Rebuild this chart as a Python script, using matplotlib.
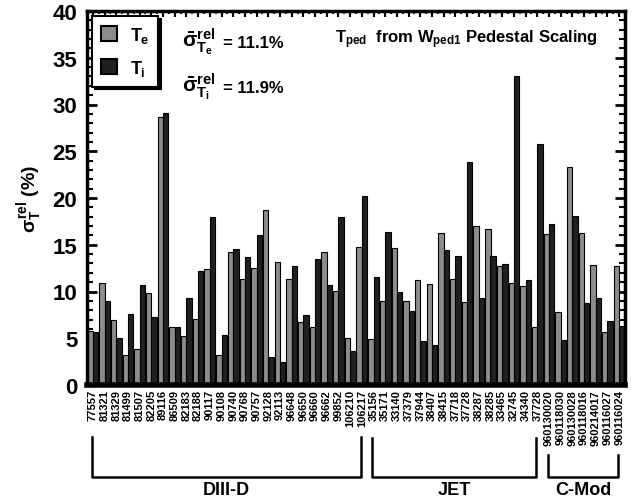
import numpy as np
import matplotlib
matplotlib.use("Agg")
import matplotlib.pyplot as plt
from matplotlib import font_manager as fm
from matplotlib.patches import Patch
from matplotlib.lines import Line2D
from matplotlib.transforms import blended_transform_factory

# ---- data -------------------------------------------------------------
shots = ["77557", "81321", "81329", "81499", "81507", "82205", "89116", "86509",
         "82183", "82188", "90117", "90108", "90740", "90768", "90757", "92128",
         "92113", "96648", "96650", "96660", "96662", "99852", "106210", "106217",
         "35156", "35171", "33140", "37379", "37944", "38407", "38415", "37718",
         "37728", "38287", "38285", "33465", "32745", "34340", "37728",
         "960130020", "960118030", "960130028", "960118016", "960214017",
         "960116027", "960116024"]

sigma_te = [5.8, 10.9, 6.9, 3.2, 3.8, 9.8, 28.7, 6.2, 5.2, 7.05, 12.4, 3.25,
            14.2, 11.35, 12.55, 18.7, 13.2, 11.3, 6.75, 6.2, 14.25, 10.1, 5.0, 14.8,
            4.9, 8.95, 14.7, 8.95, 11.25, 10.75, 16.25, 11.35, 8.9, 17.0, 16.7,
            12.7, 10.9, 10.6, 6.25,
            16.15, 7.8, 23.3, 16.25, 12.8, 5.7, 12.75]

sigma_ti = [5.65, 9.0, 5.0, 7.55, 10.7, 7.3, 29.05, 6.2, 9.3, 12.15, 17.95, 5.35,
            14.5, 13.7, 16.0, 2.95, 2.5, 12.75, 7.45, 13.5, 10.7, 18.0, 3.6, 20.2,
            11.6, 16.35, 9.9, 7.9, 4.7, 4.3, 14.45, 13.75, 23.9, 9.35, 13.75,
            12.9, 33.1, 11.25, 25.8,
            17.2, 4.8, 18.1, 8.75, 9.35, 6.85, 6.35]

devices = ["DIII-D", "JET", "C-Mod"]
device_counts = [24, 15, 7]

mean_te = 11.1
mean_ti = 11.9

# ---- fonts ------------------------------------------------------------
avail = {f.name for f in fm.fontManager.ttflist}
NARROW = "Liberation Sans Narrow" if "Liberation Sans Narrow" in avail else "Liberation Sans"
WIDE = "Liberation Sans"

plt.rcParams["font.family"] = [NARROW, "DejaVu Sans"]
plt.rcParams["font.weight"] = "bold"
plt.rcParams["mathtext.fontset"] = "custom"
plt.rcParams["mathtext.rm"] = f"{NARROW}:bold"
plt.rcParams["mathtext.it"] = f"{NARROW}:bold"
plt.rcParams["mathtext.bf"] = f"{NARROW}:bold"
plt.rcParams["mathtext.sf"] = f"{NARROW}:bold"

GRAY = "#8c8c8c"
DARK = "#231f20"

# ---- figure -----------------------------------------------------------
W, H = 639, 502
fig = plt.figure(figsize=(W / 100, H / 100), dpi=100)
ax = fig.add_axes([87 / W, 1 - 386 / H, (625 - 87) / W, (386 - 12) / H])

x = np.arange(len(shots))
bw = 0.46
ax.bar(x - bw / 2, sigma_te, bw, color=GRAY, edgecolor="black", linewidth=0.8, zorder=2)
ax.bar(x + bw / 2, sigma_ti, bw, color=DARK, edgecolor="black", linewidth=0.8, zorder=2)

ax.set_xlim(-0.5, len(shots) - 0.5)
ax.set_ylim(0, 40)

# y axis
ax.set_yticks(np.arange(0, 41, 5))
ax.set_yticks(np.arange(0, 41, 1), minor=True)
ax.tick_params(axis="y", which="both", direction="in", left=True, right=True)
ax.tick_params(axis="y", which="major", length=7, width=2, pad=7, labelsize=16)
ax.tick_params(axis="y", which="minor", length=4, width=1.5)
for lab in ax.get_yticklabels():
    lab.set_fontweight("bold")

# x axis
ax.set_xticks(x)
ax.set_xticklabels(shots, rotation=90, fontsize=8, fontweight="bold", family=WIDE)
ax.set_xticks(np.arange(-0.5, len(shots), 1), minor=True)
ax.tick_params(axis="x", which="both", direction="in", bottom=True, top=True)
ax.tick_params(axis="x", which="major", length=4, width=1.5, pad=3)
ax.tick_params(axis="x", which="minor", length=2.5, width=1.2)

for side in ["left", "top", "right"]:
    ax.spines[side].set_linewidth(2.5)
ax.spines["bottom"].set_linewidth(4)

ax.set_ylabel(r"$\sigma_{T}^{rel}$ (%)", fontsize=14, fontweight="bold", labelpad=6)

# legend with solid drop shadow
handles = [Patch(facecolor=GRAY, edgecolor="black", linewidth=1.5),
           Patch(facecolor=DARK, edgecolor="black", linewidth=1.5)]
leg = ax.legend(handles, [r"$T_e$", r"$T_i$"], loc="upper left",
                bbox_to_anchor=(0.009, 0.987), borderaxespad=0, fontsize=13,
                handlelength=0.9, handleheight=0.9, handletextpad=0.7,
                labelspacing=0.7, borderpad=0.5, fancybox=False,
                shadow={"color": "black", "alpha": 1.0})
leg.get_frame().set_edgecolor("black")
leg.get_frame().set_linewidth(1.5)

# mean values
for yb, sub, val in [(0.904, "T_e", mean_te), (0.783, "T_i", mean_ti)]:
    ax.text(0.177, yb, r"$\bar{\sigma}^{rel}_{%s}$" % sub,
            transform=ax.transAxes, fontsize=15, va="baseline", ha="left")
    ax.text(0.253, yb, f"= {val}%", transform=ax.transAxes, fontsize=12,
            va="baseline", ha="left")

# title
ax.text(0.461, 0.917, r"$T_{ped}$  from $W_{ped1}$ Pedestal Scaling",
        transform=ax.transAxes, fontsize=12, va="baseline", ha="left")

# device brackets below the shot numbers
tr = blended_transform_factory(ax.transData, fig.transFigure)
bracket_top = [438, 439, 456]
y_bot = 1 - 478 / H
start = 0
for name, n, ytop in zip(devices, device_counts, bracket_top):
    x0, x1 = start - 0.1, start + n - 1 - 0.1
    yt = 1 - ytop / H
    ax.add_line(Line2D([x0, x0, x1, x1], [yt, y_bot, y_bot, yt], transform=tr,
                       color="black", linewidth=1.8, clip_on=False))
    ax.text((x0 + x1) / 2, 1 - 491 / H, name, transform=tr, ha="center",
            va="center", fontsize=13, fontweight="bold")
    start += n

fig.savefig("out.png", dpi=100)
